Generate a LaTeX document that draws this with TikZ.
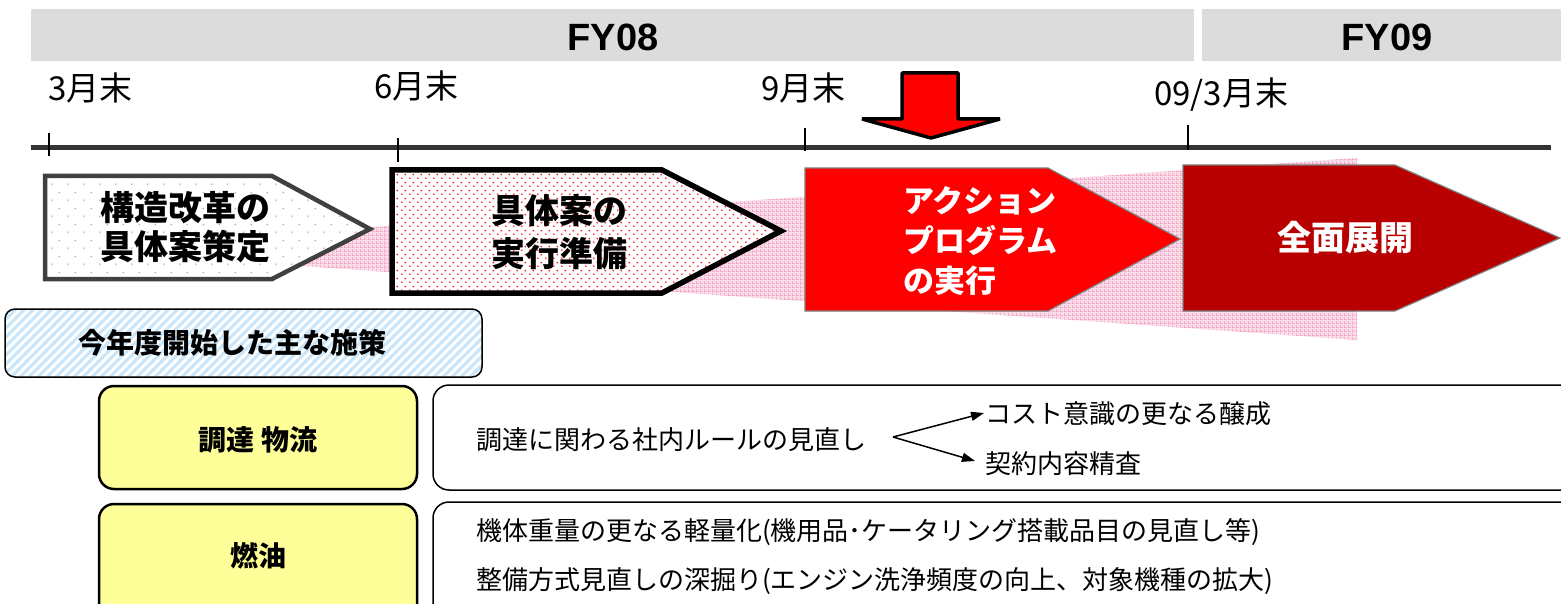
\documentclass[tikz,border=0pt]{standalone}
\usepackage{fontspec}
\setmainfont{Noto Sans CJK JP}
\newfontfamily\lib{Liberation Sans}
\usetikzlibrary{patterns,arrows.meta}

\definecolor{hdr}{HTML}{DCDCDC}
\definecolor{tline}{HTML}{333333}
\definecolor{wedge}{HTML}{FBDDEA}
\definecolor{wedgegrid}{HTML}{F39CC2}
\definecolor{dotlight}{HTML}{F29A9A}
\definecolor{dotred}{HTML}{FF2A2A}
\definecolor{stripe}{HTML}{C9E6FA}
\definecolor{yel}{HTML}{FFFF99}
\definecolor{darkred}{HTML}{B80000}
\definecolor{cgray}{HTML}{404040}

\pgfdeclarepatternformonly{sparsedots}{\pgfqpoint{0pt}{0pt}}{\pgfqpoint{16pt}{16pt}}{\pgfqpoint{16pt}{16pt}}{%
  \pgfpathcircle{\pgfqpoint{4pt}{4pt}}{1pt}%
  \pgfpathcircle{\pgfqpoint{12pt}{12pt}}{1pt}%
  \pgfusepath{fill}}
\pgfdeclarepatternformonly{densedots}{\pgfqpoint{0pt}{0pt}}{\pgfqpoint{8pt}{8pt}}{\pgfqpoint{8pt}{8pt}}{%
  \pgfpathcircle{\pgfqpoint{2pt}{2pt}}{1.1pt}%
  \pgfpathcircle{\pgfqpoint{6pt}{6pt}}{1.1pt}%
  \pgfusepath{fill}}
\pgfdeclarepatternformonly{pinkgrid}{\pgfqpoint{0pt}{0pt}}{\pgfqpoint{4pt}{4pt}}{\pgfqpoint{4pt}{4pt}}{%
  \pgfsetlinewidth{0.8pt}%
  \pgfpathmoveto{\pgfqpoint{0pt}{0.5pt}}\pgfpathlineto{\pgfqpoint{4pt}{0.5pt}}%
  \pgfpathmoveto{\pgfqpoint{0.5pt}{0pt}}\pgfpathlineto{\pgfqpoint{0.5pt}{4pt}}%
  \pgfusepath{stroke}}
\pgfdeclarepatternformonly{bluestripes}{\pgfqpoint{-1pt}{-1pt}}{\pgfqpoint{10pt}{10pt}}{\pgfqpoint{9pt}{9pt}}{%
  \pgfsetlinewidth{3pt}%
  \pgfpathmoveto{\pgfqpoint{-1pt}{-1pt}}\pgfpathlineto{\pgfqpoint{10pt}{10pt}}%
  \pgfpathmoveto{\pgfqpoint{-1pt}{8pt}}\pgfpathlineto{\pgfqpoint{1pt}{10pt}}%
  \pgfpathmoveto{\pgfqpoint{8pt}{-1pt}}\pgfpathlineto{\pgfqpoint{10pt}{1pt}}%
  \pgfusepath{stroke}}

\tikzset{
  hdrtext/.style={font=\lib\bfseries\fontsize{38}{40}\selectfont, inner sep=0pt},
  month/.style={font=\fontsize{33}{36}\selectfont, anchor=west, inner sep=0pt},
  tick/.style={line width=1.6pt, black},
  chevtext/.style={font=\bfseries\fontsize{34}{39}\selectfont, align=center, inner sep=0pt},
  boxtext/.style={font=\fontsize{26}{30}\selectfont, anchor=west, inner sep=0pt},
  labtext/.style={font=\bfseries\fontsize{28}{30}\selectfont, inner sep=0pt},
  arr/.style={line width=1.5pt, -{Triangle[length=13pt,width=9pt]}},
}

\begin{document}
\begin{tikzpicture}[x=1pt,y=-1pt]
\useasboundingbox (0,0) rectangle (1561,604);
\fill[white] (0,0) rectangle (1561,604);

% header bars
\fill[hdr] (31,9) rectangle (1194,61);
\fill[hdr] (1202,9) rectangle (1561,61);
\node[hdrtext] (fy08) at (613,37) {FY08};
\node[hdrtext] (fy09) at (1387,37) {FY09};

% month labels
\node[month] (m3) at (48,88) {3月末};
\node[month] (m6) at (374,86) {6月末};
\node[month] (m9) at (761,88) {9月末};
\node[month] (m09) at (1154,95) {09/3月末};

% timeline
\draw[tline, line width=5pt] (31,148) -- (1551,148);
\draw[tick] (49,133) -- (49,156);
\draw[tick] (398,138) -- (398,162);
\draw[tick] (805,128) -- (805,151);
\draw[tick] (1188,125) -- (1188,150);

% pink wedge
\fill[wedge] (60,249) -- (1357,158) -- (1357,340) -- cycle;
\fill[pattern=pinkgrid, pattern color=wedgegrid] (60,249) -- (1357,158) -- (1357,340) -- cycle;

% chevron 1
\fill[white] (45,176) -- (272,176) -- (370,229) -- (272,279) -- (45,279) -- cycle;
\fill[pattern=sparsedots, pattern color=dotlight] (45,176) -- (272,176) -- (370,229) -- (272,279) -- (45,279) -- cycle;
\draw[cgray, line width=4.5pt, line join=miter] (45,176) -- (272,176) -- (370,229) -- (272,279) -- (45,279) -- cycle;
\node[chevtext] (c1) at (185,227) {構造改革の\\具体案策定};

% chevron 2
\fill[white] (392,170) -- (662,170) -- (781,231) -- (662,293) -- (392,293) -- cycle;
\fill[pattern=densedots, pattern color=dotred] (392,170) -- (662,170) -- (781,231) -- (662,293) -- (392,293) -- cycle;
\draw[black, line width=5.5pt, line join=miter] (392,170) -- (662,170) -- (781,231) -- (662,293) -- (392,293) -- cycle;
\node[chevtext, font=\bfseries\fontsize{34}{43}\selectfont] (c2) at (559,232) {具体案の\\実行準備};

% chevron 3
\draw[fill=red, draw=gray, line width=1.2pt] (805,168) -- (1048,168) -- (1180,239) -- (1048,311) -- (805,311) -- cycle;
\node[font=\bfseries\fontsize{31}{40}\selectfont, align=left, anchor=west, inner sep=0pt, text=white] (c3) at (903,241) {アクション\\プログラム\\の実行};

% chevron 4
\draw[fill=darkred, draw=gray, line width=1.2pt] (1183,165) -- (1395,165) -- (1560,238) -- (1395,311) -- (1183,311) -- cycle;
\node[font=\bfseries\fontsize{34}{38}\selectfont, inner sep=0pt, text=white] (c4) at (1345,238) {全面展開};

% down arrow
\draw[fill=red, draw=black, line width=3.5pt, line join=bevel] (902,73) -- (958,73) -- (958,119) -- (1000,119) -- (931,138) -- (862,119) -- (902,119) -- cycle;

% blue label box
\fill[white, rounded corners=10pt] (5,309) rectangle (482,377);
\fill[pattern=bluestripes, pattern color=stripe, rounded corners=10pt] (5,309) rectangle (482,377);
\draw[black, line width=1.5pt, rounded corners=10pt] (5,309) rectangle (482,377);
\node[labtext] (lab) at (232,343) {今年度開始した主な施策};

% yellow boxes
\draw[fill=yel, line width=2.5pt, rounded corners=15pt] (99,386) rectangle (417,489);
\node[labtext] (y1) at (258,440) {調達 物流};
\draw[fill=yel, line width=2.5pt, rounded corners=15pt] (99,504) rectangle (417,625);
\node[labtext] (y2) at (258,556) {燃油};

% white boxes
\draw[line width=1.5pt, rounded corners=16pt] (433,385) rectangle (1590,490);
\draw[line width=1.5pt, rounded corners=16pt] (433,502) rectangle (1590,625);

% box 1 texts
\node[boxtext] (t1) at (476,440) {調達に関わる社内ルールの見直し};
\node[boxtext] (r1) at (985,414) {コスト意識の更なる醸成};
\node[boxtext] (r2) at (985,464) {契約内容精査};
\coordinate (fork) at (893,437);
\draw[arr] (fork) -- ([xshift=-1pt,yshift=1pt]r1.west);
\draw[arr] (fork) -- ([xshift=-10pt,yshift=3pt]r2.west);

% box 2 texts
\node[boxtext] (t2) at (476,532) {機体重量の更なる軽量化(機用品･ケータリング搭載品目の見直し等)};
\node[boxtext] (t3) at (476,581) {整備方式見直しの深掘り(エンジン洗浄頻度の向上、対象機種の拡大)};
\end{tikzpicture}
\end{document}
